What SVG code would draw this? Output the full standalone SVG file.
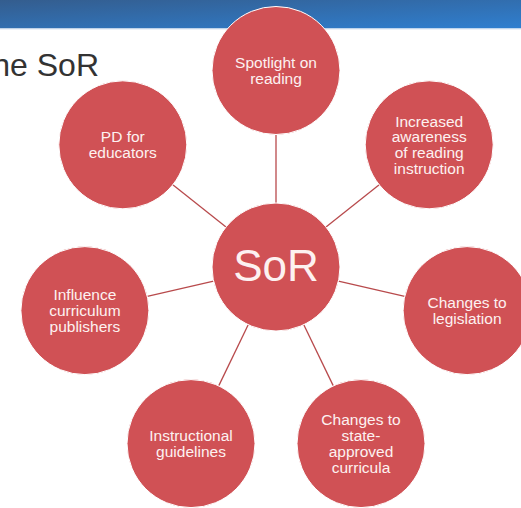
<svg xmlns="http://www.w3.org/2000/svg" width="521" height="508" viewBox="0 0 521 508">
  <defs>
    <linearGradient id="barGrad" x1="0" y1="0" x2="1" y2="1">
      <stop offset="0" stop-color="#345d8e"/>
      <stop offset="1" stop-color="#2f7fd0"/>
    </linearGradient>
    <style>
      .node circle { fill: #d05155; stroke: #ffffff; stroke-width: 1; }
      .node text { font-family: "Liberation Sans", Arial, sans-serif; font-size: 15.5px; fill: #fdf1f1; text-anchor: middle; }
      .hub text { font-size: 44px; }
      .links line { stroke: #b84a4c; stroke-width: 1.3; }
      .title { font-family: "Liberation Sans", Arial, sans-serif; font-size: 32px; fill: #333333; }
    </style>
  </defs>

  <rect width="521" height="508" fill="#ffffff"/>

  <!-- header band -->
  <rect x="0" y="0" width="521" height="28.5" fill="url(#barGrad)"/>
  <rect x="0" y="28.5" width="521" height="1.2" fill="#e4ecf6"/>

  <text class="title" x="99" y="76" text-anchor="end">he SoR</text>

  <!-- spokes between hub and outer circles -->
  <g id="connectors" class="links">
    <line x1="276" y1="203" x2="276" y2="135"/>
    <line x1="326" y1="227.1" x2="379.2" y2="184.7"/>
    <line x1="338.4" y1="281.2" x2="404.7" y2="296.4"/>
    <line x1="303.8" y1="324.7" x2="333.3" y2="385.9"/>
    <line x1="248.2" y1="324.7" x2="218.7" y2="385.9"/>
    <line x1="213.6" y1="281.2" x2="147.3" y2="296.4"/>
    <line x1="226" y1="227.1" x2="172.8" y2="184.7"/>
  </g>

  <g id="hub" class="node hub">
    <circle cx="276" cy="267" r="64"/>
    <text x="276" y="281">SoR</text>
  </g>

  <g id="spotlight" class="node">
    <circle cx="276" cy="70.5" r="64"/>
    <text x="276" y="68">Spotlight on</text>
    <text x="276" y="83.8">reading</text>
  </g>

  <g id="awareness" class="node">
    <circle cx="429.2" cy="144.8" r="64"/>
    <text x="429.2" y="126.5">Increased</text>
    <text x="429.2" y="142.3">awareness</text>
    <text x="429.2" y="158.1">of reading</text>
    <text x="429.2" y="173.9">instruction</text>
  </g>

  <g id="legislation" class="node">
    <circle cx="467.1" cy="310.6" r="64"/>
    <text x="467.1" y="308.1">Changes to</text>
    <text x="467.1" y="323.9">legislation</text>
  </g>

  <g id="curricula" class="node">
    <circle cx="361" cy="443.6" r="64"/>
    <text x="361" y="425.3">Changes to</text>
    <text x="361" y="441.1">state-</text>
    <text x="361" y="456.9">approved</text>
    <text x="361" y="472.7">curricula</text>
  </g>

  <g id="guidelines" class="node">
    <circle cx="191" cy="443.6" r="64"/>
    <text x="191" y="441.1">Instructional</text>
    <text x="191" y="456.9">guidelines</text>
  </g>

  <g id="publishers" class="node">
    <circle cx="84.9" cy="310.6" r="64"/>
    <text x="84.9" y="300.2">Influence</text>
    <text x="84.9" y="316">curriculum</text>
    <text x="84.9" y="331.8">publishers</text>
  </g>

  <g id="educators" class="node">
    <circle cx="122.8" cy="144.8" r="64"/>
    <text x="122.8" y="142.3">PD for</text>
    <text x="122.8" y="158.1">educators</text>
  </g>
</svg>
